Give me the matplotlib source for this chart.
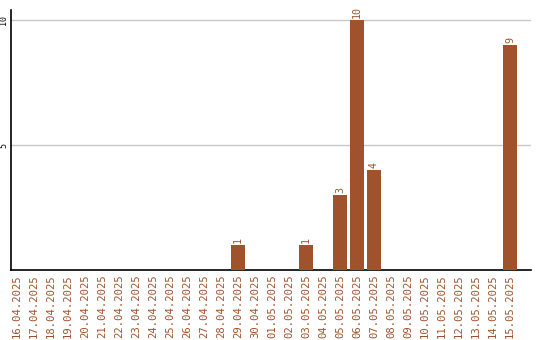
import matplotlib
matplotlib.use("Agg")
import matplotlib.pyplot as plt

DATES = [
    "16.04.2025", "17.04.2025", "18.04.2025", "19.04.2025", "20.04.2025",
    "21.04.2025", "22.04.2025", "23.04.2025", "24.04.2025", "25.04.2025",
    "26.04.2025", "27.04.2025", "28.04.2025", "29.04.2025", "30.04.2025",
    "01.05.2025", "02.05.2025", "03.05.2025", "04.05.2025", "05.05.2025",
    "06.05.2025", "07.05.2025", "08.05.2025", "09.05.2025", "10.05.2025",
    "11.05.2025", "12.05.2025", "13.05.2025", "14.05.2025", "15.05.2025",
]
COUNTS = [0, 0, 0, 0, 0, 0, 0, 0, 0, 0, 0, 0, 0, 1, 0,
          0, 0, 1, 0, 3, 10, 4, 0, 0, 0, 0, 0, 0, 0, 9]
Y_TICKS = [5, 10]

BAR_COLOR = "#a0522d"
FONT = "DejaVu Sans Mono"

fig = plt.figure(figsize=(5.4, 3.4), dpi=100)
ax = fig.add_axes([11 / 540, 70 / 340, 520 / 540, 260 / 340])

x = list(range(len(DATES)))
ax.bar(x, COUNTS, width=14 / 17, color=BAR_COLOR, zorder=3)

for xi, v in zip(x, COUNTS):
    if v > 0:
        ax.text(xi, v + 0.08, str(v), rotation=90, ha="center", va="bottom",
                color=BAR_COLOR, fontsize=7.2, family=FONT)

ax.set_xlim(-0.35, 30.24)
ax.set_ylim(0, 10.4)
ax.set_xticks(x)
ax.set_xticklabels(DATES, rotation=90, color=BAR_COLOR, fontsize=7.6, family=FONT)
ax.set_yticks(Y_TICKS)
ax.set_yticklabels([str(t) for t in Y_TICKS], rotation=90, va="center",
                   fontsize=6, family=FONT)
ax.tick_params(length=0, pad=3)
ax.tick_params(axis="y", pad=2)
ax.grid(axis="y", color="#c8c8c8", linewidth=1, zorder=0)

for side in ["top", "right"]:
    ax.spines[side].set_visible(False)
for side in ["left", "bottom"]:
    ax.spines[side].set_color("black")
    ax.spines[side].set_linewidth(1.2)

fig.savefig("out.png", dpi=100)
